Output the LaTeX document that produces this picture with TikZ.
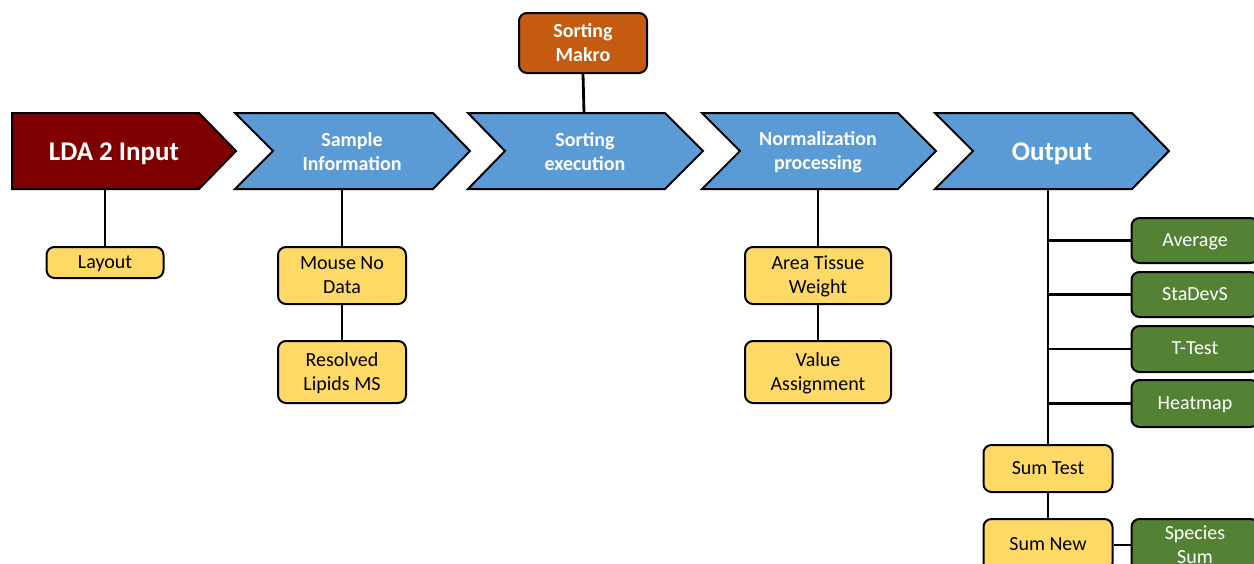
\documentclass[tikz,border=0pt]{standalone}
\usepackage{fontspec}
\setmainfont{Carlito}
\definecolor{ldared}{HTML}{7F0000}
\definecolor{chevblue}{HTML}{5B9BD5}
\definecolor{makro}{HTML}{C55A11}
\definecolor{yel}{HTML}{FFD966}
\definecolor{grn}{HTML}{548235}
\tikzset{
  chevpath/.style={draw=black, line width=2pt, line join=miter},
  chevtext/.style={text=white, font=\fontsize{20}{24}\selectfont\bfseries, align=center, inner sep=0pt},
  bigtext/.style={text=white, font=\fontsize{27}{30}\selectfont\bfseries, align=center, inner sep=0pt},
  ybox/.style={draw=black, line width=2pt, fill=yel, rounded corners=8pt, align=center, inner sep=0pt,
    text depth=1.5pt, font=\fontsize{20}{24}\selectfont},
  gbox/.style={draw=black, line width=2pt, fill=grn, rounded corners=8pt, align=center, inner sep=0pt,
    text depth=1.5pt, text=white, font=\fontsize{20}{24}\selectfont, minimum width=127pt},
  conn/.style={draw=black, line width=2.8pt},
}
\begin{document}
\begin{tikzpicture}[x=1pt,y=-1pt]
\useasboundingbox (0,0) rectangle (1254,563);
\clip (0,0) rectangle (1254,563);
\fill[white] (0,0) rectangle (1254,563);

% chevrons
\path[chevpath, fill=ldared] (12,113) -- (199,113) -- (236,151) -- (199,189) -- (12,189) -- cycle;
\path[chevpath, fill=chevblue] (235,113) -- (433,113) -- (470,151) -- (433,189) -- (235,189) -- (273,151) -- cycle;
\path[chevpath, fill=chevblue] (468,113) -- (665,113) -- (703,151) -- (665,189) -- (468,189) -- (505,151) -- cycle;
\path[chevpath, fill=chevblue] (702,113) -- (898,113) -- (936,151) -- (898,189) -- (702,189) -- (740,151) -- cycle;
\path[chevpath, fill=chevblue] (935,113) -- (1132,113) -- (1169,151) -- (1132,189) -- (935,189) -- (973,151) -- cycle;

\node[bigtext] (lda) at (114,153.5) {LDA 2 Input};
\node[chevtext] (sample) at (352,152) {Sample\\Information};
\node[chevtext] (sorting) at (585,152) {Sorting\\execution};
\node[chevtext] (norm) at (818,152.5) {Normalization\\processing};
\node[bigtext] (output) at (1052,153.5) {Output};

\coordinate (lda-b) at (105,189);
\coordinate (sample-b) at (342,189);
\coordinate (sorting-t) at (584,113);
\coordinate (norm-b) at (818,189);
\coordinate (output-b) at (1048,189);

% boxes
\node[ybox, minimum width=117pt, minimum height=31pt] (layout) at (105,262.5) {Layout};
\node[ybox, minimum width=128pt, minimum height=57pt] (mouse) at (342,275.5) {Mouse No\\Data};
\node[ybox, minimum width=128pt, minimum height=62pt] (lipids) at (342,372) {Resolved\\Lipids MS};
\node[ybox, minimum width=146pt, minimum height=57pt] (area) at (818,275.5) {Area Tissue\\Weight};
\node[ybox, minimum width=146pt, minimum height=62pt] (value) at (818,372) {Value\\Assignment};
\node[ybox, minimum width=129pt, minimum height=47pt] (sumtest) at (1048,468.5) {Sum Test};
\node[ybox, minimum width=129pt, minimum height=52pt] (sumnew) at (1048,545) {Sum New};

\node[draw=black, line width=2pt, fill=makro, rounded corners=8pt, minimum width=128pt, minimum height=60pt,
  align=center, inner sep=0pt, text depth=1.5pt, text=white, font=\fontsize{20}{24}\selectfont\bfseries] (makro) at (583,43) {Sorting\\Makro};

\node[gbox, minimum height=45pt] (avg) at (1195,240.5) {Average};
\node[gbox, minimum height=45pt] (stadev) at (1195,294.5) {StaDevS};
\node[gbox, minimum height=46pt] (ttest) at (1195,349) {T-Test};
\node[gbox, minimum height=47pt] (heat) at (1195,403.5) {Heatmap};
\node[gbox, minimum height=52pt] (species) at (1195,545) {Species\\Sum};

% connectors
\draw[conn] (lda-b) -- (layout.north);
\draw[conn] (sample-b) -- (mouse.north);
\draw[conn] (mouse.south) -- (lipids.north);
\draw[conn] (makro.south) -- (sorting-t);
\draw[conn] (norm-b) -- (area.north);
\draw[conn] (area.south) -- (value.north);
\draw[conn] (output-b) -- (sumtest.north);
\draw[conn] (sumtest.south) -- (sumnew.north);
\draw[conn] (avg.west) -- (avg.west -| output-b);
\draw[conn] (stadev.west) -- (stadev.west -| output-b);
\draw[conn] (ttest.west) -- (ttest.west -| output-b);
\draw[conn] (heat.west) -- (heat.west -| output-b);
\draw[conn] (sumnew.east) -- (species.west);
\end{tikzpicture}
\end{document}
